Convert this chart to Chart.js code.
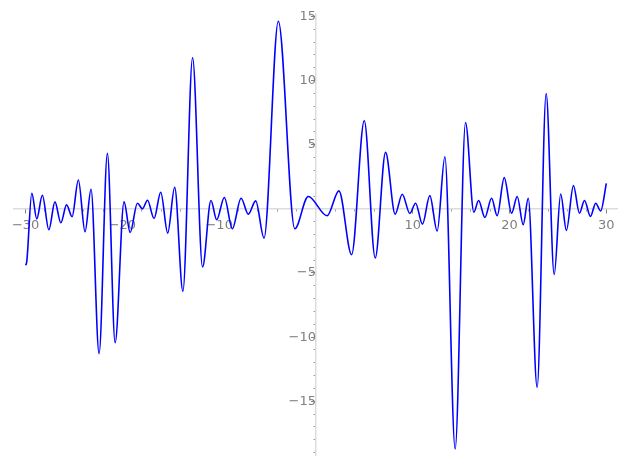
<!DOCTYPE html>
<html>
<head>
<meta charset="utf-8">
<script src="https://cdn.jsdelivr.net/npm/chart.js@4/dist/chart.umd.min.js"></script>
<style>
  html, body { margin: 0; padding: 0; background: #ffffff; }
  canvas { display: block; }
</style>
</head>
<body>
<canvas id="c" width="627" height="469"></canvas>
<script>
// ---- data ----
const xValues = [
  -30, -29.88, -29.36, -28.85, -28.27, -27.6, -26.97, -26.36, -25.77, -25.2,
  -24.55, -23.86, -23.24, -22.41, -21.55, -20.75, -19.83, -19.2, -18.45, -17.93,
  -17.41, -16.73, -16.04, -15.32, -14.6, -13.75, -12.75, -11.72, -10.85, -10.26,
  -9.47, -8.64, -7.74, -6.99, -6.23, -5.37, -3.89, -2.19, -0.8, 1.15,
  2.37, 3.68, 4.99, 6.12, 7.19, 8.18, 8.91, 9.7, 10.29, 11.0,
  11.76, 12.52, 13.32, 14.38, 15.45, 16.31, 16.8, 17.45, 18.14, 18.72,
  19.45, 20.21, 20.79, 21.41, 21.93, 22.85, 23.78, 24.61, 25.28, 25.87,
  26.6, 27.22, 27.74, 28.36, 28.9, 29.41, 30
];
const yValues = [
  -4.4, -4.1, 1.22, -0.78, 1.06, -1.63, 0.54, -1.09, 0.31, -0.62,
  2.25, -1.79, 1.53, -11.28, 4.32, -10.43, 0.54, -1.84, 0.44, 0.0,
  0.67, -0.75, 1.29, -1.89, 1.68, -6.42, 11.78, -4.53, 0.65, -0.85,
  0.88, -1.55, 0.83, -0.41, 0.62, -2.28, 14.62, -1.55, 0.96, -0.54,
  1.40, -3.57, 6.86, -3.83, 4.4, -0.41, 1.14, -0.36, 0.44, -1.19,
  1.03, -1.73, 4.06, -18.71, 6.73, -0.26, 0.65, -0.67, 0.83, -0.54,
  2.43, -0.34, 0.96, -1.24, 0.83, -13.92, 8.98, -5.12, 1.16, -1.68,
  1.81, -0.34, 0.65, -0.59, 0.44, -0.16, 1.99
];
const xMajorTicks = [-30, -20, -10, 0, 10, 20, 30];
const xMinorTicks = [-30,-28,-26,-24,-22,-20,-18,-16,-14,-12,-10,-8,-6,-4,-2,0,2,4,6,8,10,12,14,16,18,20,22,24,26,28,30];
const yMajorTicks = [-15, -10, -5, 0, 5, 10, 15];
const yMinorTicks = [-19,-18,-17,-16,-15,-14,-13,-12,-11,-10,-9,-8,-7,-6,-5,-4,-3,-2,-1,0,1,2,3,4,5,6,7,8,9,10,11,12,13,14,15];
const xLimits = [-31.2, 31.1];
const yLimits = [-19.2, 15.2];

// ---- chart ----
const points = xValues.map((x, i) => ({ x: x, y: yValues[i] }));
const fmt = v => v === 0 ? '' : (v < 0 ? '\u2212' + Math.abs(v) : String(v));
const GRAY = '#808080';
const AXIS = '#dcdcdc';
const font = { family: 'DejaVu Sans', size: 13 };

function fixedTicks(arr) {
  return scale => { scale.ticks = arr.map(v => ({ value: v })); };
}

new Chart(document.getElementById('c'), {
  type: 'line',
  data: {
    datasets: [{
      data: points,
      borderColor: '#0000ff',
      borderWidth: 1.6,
      pointRadius: 0,
      fill: false,
      cubicInterpolationMode: 'monotone',
      xAxisID: 'x',
      yAxisID: 'y'
    }]
  },
  options: {
    responsive: false,
    animation: false,
    devicePixelRatio: 1,
    layout: { padding: { left: 14, right: 10, top: 12, bottom: 12 } },
    plugins: { legend: { display: false }, tooltip: { enabled: false } },
    scales: {
      x: {
        type: 'linear', min: xLimits[0], max: xLimits[1],
        position: { y: 0 },
        afterBuildTicks: fixedTicks(xMajorTicks),
        grid: { drawOnChartArea: false, drawTicks: true, tickLength: 4, tickColor: GRAY, tickWidth: 1 },
        border: { display: true, color: AXIS, width: 1.5 },
        ticks: { color: GRAY, font: font, padding: 5, maxRotation: 0, autoSkip: false, callback: v => fmt(v) }
      },
      xm: {
        type: 'linear', min: xLimits[0], max: xLimits[1],
        position: { y: 0 },
        afterBuildTicks: fixedTicks(xMinorTicks),
        grid: { drawOnChartArea: false, drawTicks: true, tickLength: 2.5, tickColor: GRAY, tickWidth: 0.8 },
        border: { display: false },
        ticks: { display: true, color: 'rgba(0,0,0,0)', font: { size: 1 }, autoSkip: false, callback: () => '' }
      },
      y: {
        type: 'linear', min: yLimits[0], max: yLimits[1],
        position: { x: 0 },
        afterBuildTicks: fixedTicks(yMajorTicks),
        grid: { drawOnChartArea: false, drawTicks: true, tickLength: 4, tickColor: GRAY, tickWidth: 1 },
        border: { display: true, color: AXIS, width: 1.5 },
        ticks: { color: GRAY, font: font, padding: 6, autoSkip: false, callback: v => fmt(v) }
      },
      ym: {
        type: 'linear', min: yLimits[0], max: yLimits[1],
        position: { x: 0 },
        afterBuildTicks: fixedTicks(yMinorTicks),
        grid: { drawOnChartArea: false, drawTicks: true, tickLength: 2.5, tickColor: GRAY, tickWidth: 0.8 },
        border: { display: false },
        ticks: { display: true, color: 'rgba(0,0,0,0)', font: { size: 1 }, autoSkip: false, callback: () => '' }
      }
    }
  }
});
</script>
</body>
</html>
